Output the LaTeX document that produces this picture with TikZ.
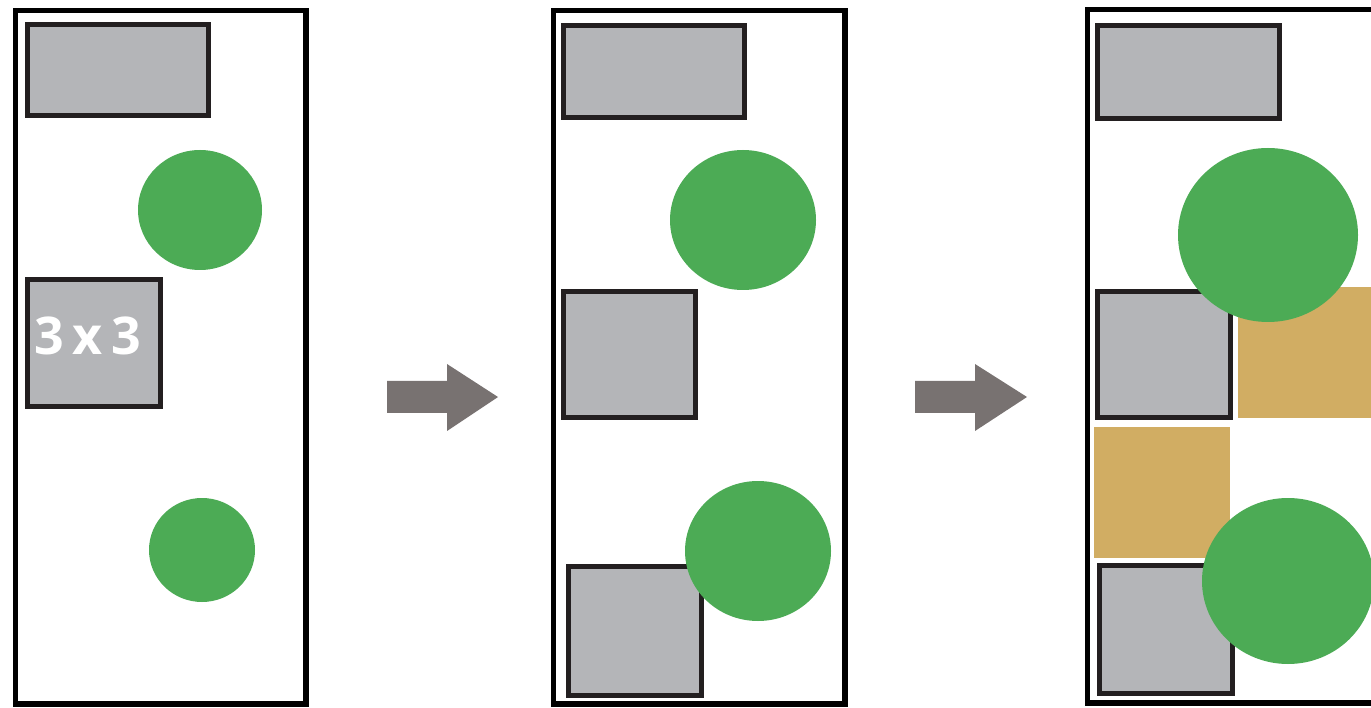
\documentclass[tikz,border=0pt]{standalone}
\usepackage{fontspec}
\newfontfamily\labelfont{Open Sans}
\definecolor{boxgray}{HTML}{B4B5B8}
\definecolor{boxedge}{HTML}{231F20}
\definecolor{treegreen}{HTML}{4CAB55}
\definecolor{tan}{HTML}{D1AD63}
\definecolor{arrowgray}{HTML}{787271}
\tikzset{
  frame/.style={draw=black,line width=5.5pt,fill=white},
  graybox/.style={draw=boxedge,line width=5pt,fill=boxgray},
  tree/.style={fill=treegreen},
  tanbox/.style={fill=tan},
  bigarrow/.style={fill=arrowgray}
}
\begin{document}
\begin{tikzpicture}[x=1pt,y=-1pt]
\useasboundingbox (0,0) rectangle (1371,708);
% panel 1
\draw[frame] (15.5,10.5) rectangle (306,704);
\draw[graybox] (27.5,24.5) rectangle (208,116);
\fill[tree] (200,210) ellipse [x radius=62,y radius=60];
\draw[graybox] (27.5,279.5) rectangle (160,407);
\node[text=white,font=\labelfont\bfseries\fontsize{52}{52}\selectfont,inner sep=0] (lbl) at (88,336) {3\,x\,3};
\fill[tree] (202,550) ellipse [x radius=53,y radius=52];
% arrow 1
\fill[bigarrow] (387,381) -- (447,381) -- (447,364) -- (498,397) -- (447,431) -- (447,413) -- (387,413) -- cycle;
% panel 2
\draw[frame] (553.5,10.5) rectangle (845,704);
\draw[graybox] (563.5,25.5) rectangle (744,118);
\fill[tree] (743,220) ellipse [x radius=73,y radius=70];
\draw[graybox] (563.5,291.5) rectangle (695,418);
\draw[graybox] (568.5,566.5) rectangle (701,695);
\fill[tree] (758,551) ellipse [x radius=73,y radius=70];
% arrow 2
\fill[bigarrow] (915,381) -- (975,381) -- (975,364) -- (1027,397) -- (975,431) -- (975,413) -- (915,413) -- cycle;
% panel 3
\draw[frame] (1087.5,9.5) rectangle (1380,703);
\draw[graybox] (1097.5,25.5) rectangle (1279,119);
\fill[tanbox] (1238,287) rectangle (1380,418);
\draw[graybox] (1097.5,291.5) rectangle (1230,418);
\fill[tree] (1268,235) ellipse [x radius=90,y radius=87];
\fill[tanbox] (1094,427) rectangle (1230,558);
\draw[graybox] (1099.5,565.5) rectangle (1232,693);
\fill[tree] (1288,581) ellipse [x radius=86,y radius=83];
\end{tikzpicture}
\end{document}
